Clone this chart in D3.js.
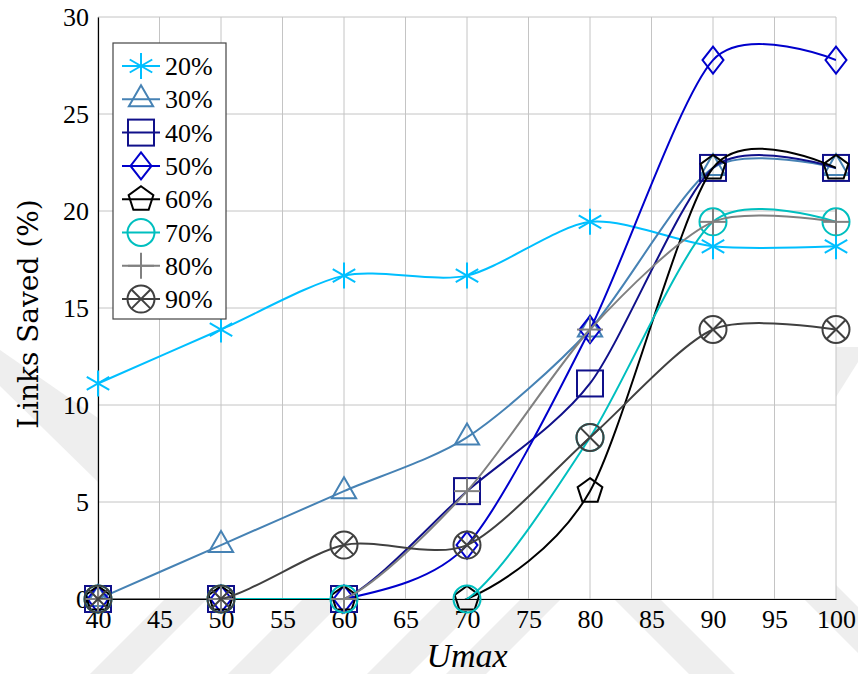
<!DOCTYPE html>
<html>
<head>
<meta charset="utf-8">
<script src="https://cdn.jsdelivr.net/npm/d3@7"></script>
<style>
  html, body { margin: 0; padding: 0; background: #fff; }
  svg { display: block; }
</style>
</head>
<body>
<svg id="chart" width="858" height="674"></svg>
<script>
// Umax values on the x axis
const umax = [40, 50, 60, 70, 80, 90, 100];
const xTicks = [40, 45, 50, 55, 60, 65, 70, 75, 80, 85, 90, 95, 100];
const yTicks = [0, 5, 10, 15, 20, 25, 30];

// Percentage of links saved for each load level
const s20 = [11.11, 13.89, 16.67, 16.67, 19.44, 18.18, 18.18];
const s30 = [0, 2.78, 5.56, 8.33, 13.89, 22.22, 22.22];
const s40 = [0, 0, 0, 5.56, 11.11, 22.22, 22.22];
const s50 = [0, 0, 0, 2.78, 13.89, 27.78, 27.78];
const s60 = [0, 0, 0, 0, 5.56, 22.22, 22.22];
const s70 = [0, 0, 0, 0, 8.33, 19.44, 19.44];
const s80 = [0, 0, 0, 5.56, 13.89, 19.44, 19.44];
const s90 = [0, 0, 2.78, 2.78, 8.33, 13.89, 13.89];

const seriesNames = ["20%", "30%", "40%", "50%", "60%", "70%", "80%", "90%"];
const seriesValues = [s20, s30, s40, s50, s60, s70, s80, s90];
const seriesColors = ["#00BFFF", "#4682B4", "#10108A", "#0000CC", "#000000", "#00BFBF", "#808080", "#404040"];
const seriesMarks = ["asterisk", "triangle", "square", "diamond", "pentagon", "circle", "plus", "otimes"];

const SERIF = "'Liberation Serif', 'Times New Roman', Tinos, 'DejaVu Serif', 'Noto Serif', serif";

const svg = d3.select("#chart");
const W = 858, H = 674;
const plot = { left: 98, right: 836, top: 17, bottom: 599 };

const x = d3.scaleLinear().domain([40, 100]).range([plot.left, plot.right]);
const y = d3.scaleLinear().domain([0, 30]).range([plot.bottom, plot.top]);

// faint watermark bands around the figure
const bands = [
  [[90, 674], [132, 674], [232, 574], [190, 574]],
  [[228, 674], [270, 674], [370, 574], [328, 574]],
  [[367, 674], [410, 674], [510, 574], [467, 574]],
  [[446, 674], [486, 674], [586, 574], [546, 574]],
  [[689, 674], [735, 674], [635, 574], [589, 574]],
  [[879, 674], [925, 674], [825, 574], [779, 574]],
  [[0, 350], [98, 418], [98, 482], [0, 386]],
  [[836, 347], [858, 347], [858, 362], [836, 397]]
];
svg.append("g").selectAll("polygon").data(bands).join("polygon")
  .attr("points", d => d.map(p => p.join(",")).join(" "))
  .attr("fill", "#eeeeee");

// plot background
svg.append("rect")
  .attr("x", plot.left).attr("y", plot.top)
  .attr("width", plot.right - plot.left).attr("height", plot.bottom - plot.top)
  .attr("fill", "#fff");

svg.append("defs").append("clipPath").attr("id", "plotClip")
  .append("rect")
  .attr("x", plot.left).attr("y", plot.top)
  .attr("width", plot.right - plot.left).attr("height", plot.bottom - plot.top);

// grid
const grid = svg.append("g").attr("stroke", "#c4c4c4").attr("stroke-width", 1);
grid.selectAll("line.vx").data(xTicks).join("line")
  .attr("x1", d => x(d)).attr("x2", d => x(d))
  .attr("y1", plot.top).attr("y2", plot.bottom);
grid.selectAll("line.hy").data(yTicks).join("line")
  .attr("x1", plot.left).attr("x2", plot.right)
  .attr("y1", d => y(d)).attr("y2", d => y(d));

// axes
const xAxis = d3.axisBottom(x).tickValues(xTicks).tickSize(0).tickPadding(10).tickFormat(d3.format("d"));
const yAxis = d3.axisLeft(y).tickValues(yTicks).tickSize(0).tickPadding(9).tickFormat(d3.format("d"));

const gx = svg.append("g").attr("transform", `translate(0,${plot.bottom})`).call(xAxis)
  .attr("font-family", SERIF).attr("font-size", 26);
gx.select(".domain").attr("stroke", "#000").attr("stroke-width", 1.2);
gx.selectAll("text").attr("fill", "#000").attr("dy", "0.72em");

const gy = svg.append("g").attr("transform", `translate(${plot.left},0)`).call(yAxis)
  .attr("font-family", SERIF).attr("font-size", 26);
gy.select(".domain").attr("stroke", "#000").attr("stroke-width", 1.2);
gy.selectAll("text").attr("fill", "#000");

// axis titles
svg.append("text")
  .attr("transform", `translate(38,${(plot.top + plot.bottom) / 2 + 6}) rotate(-90)`)
  .attr("text-anchor", "middle")
  .attr("font-family", "DejaVu Serif")
  .attr("font-size", 28)
  .text("Links Saved (%)");
svg.append("text")
  .attr("x", (plot.left + plot.right) / 2).attr("y", 667)
  .attr("text-anchor", "middle")
  .attr("font-family", SERIF)
  .attr("font-size", 34).attr("font-style", "italic")
  .text("Umax");

// marker shapes
function drawMark(g, type, color) {
  const base = { fill: "none", stroke: color, "stroke-width": 2 };
  const add = (tag, attrs) => {
    const el = g.append(tag);
    Object.entries(Object.assign({}, base, attrs)).forEach(([k, v]) => el.attr(k, v));
    return el;
  };
  const r = 13;
  switch (type) {
    case "asterisk":
      [90, 30, 150].forEach(a => {
        const t = a * Math.PI / 180;
        add("line", { x1: -r * Math.cos(t), y1: -r * Math.sin(t), x2: r * Math.cos(t), y2: r * Math.sin(t) });
      });
      break;
    case "triangle": {
      const R = 14;
      const pts = [[0, -R], [R * Math.sqrt(3) / 2, R / 2], [-R * Math.sqrt(3) / 2, R / 2]];
      add("polygon", { points: pts.map(p => p.join(",")).join(" ") });
      break;
    }
    case "square":
      add("rect", { x: -13, y: -13, width: 26, height: 26 });
      break;
    case "diamond":
      add("polygon", { points: "0,-13.5 10.5,0 0,13.5 -10.5,0" });
      break;
    case "pentagon": {
      const pts = d3.range(5).map(i => {
        const a = -Math.PI / 2 + i * 2 * Math.PI / 5;
        return [r * Math.cos(a), r * Math.sin(a)];
      });
      add("polygon", { points: pts.map(p => p.join(",")).join(" ") });
      break;
    }
    case "circle":
      add("circle", { cx: 0, cy: 0, r: 13.5 });
      break;
    case "plus":
      add("line", { x1: -r, y1: 0, x2: r, y2: 0 });
      add("line", { x1: 0, y1: -r, x2: 0, y2: r });
      break;
    case "otimes": {
      const R = 13.5, d = R * Math.SQRT1_2;
      add("circle", { cx: 0, cy: 0, r: R });
      add("line", { x1: -d, y1: -d, x2: d, y2: d });
      add("line", { x1: -d, y1: d, x2: d, y2: -d });
      break;
    }
  }
}

// series: smooth line (clipped to the axis box) then its markers
const line = d3.line()
  .x((d, i) => x(umax[i]))
  .y(d => y(d))
  .curve(d3.curveCardinal.tension(0.2));

const series = svg.append("g");
seriesValues.forEach((vals, si) => {
  const g = series.append("g");
  g.append("path")
    .attr("d", line(vals))
    .attr("clip-path", "url(#plotClip)")
    .attr("fill", "none")
    .attr("stroke", seriesColors[si])
    .attr("stroke-width", 2);
  vals.forEach((v, i) => {
    const m = g.append("g").attr("transform", `translate(${x(umax[i])},${y(v)})`);
    drawMark(m, seriesMarks[si], seriesColors[si]);
  });
});

// legend
const legend = svg.append("g").attr("font-family", SERIF).attr("font-size", 26);
legend.append("rect")
  .attr("x", 113).attr("y", 43).attr("width", 113).attr("height", 276)
  .attr("fill", "#fff").attr("stroke", "#444").attr("stroke-width", 1.2);
seriesNames.forEach((name, i) => {
  const cy = 66 + i * 33.3;
  const row = legend.append("g");
  row.append("line")
    .attr("x1", 122).attr("x2", 160).attr("y1", cy).attr("y2", cy)
    .attr("stroke", seriesColors[i]).attr("stroke-width", 2);
  const m = row.append("g").attr("transform", `translate(141,${cy})`);
  drawMark(m, seriesMarks[i], seriesColors[i]);
  row.append("text")
    .attr("x", 165).attr("y", cy + 9)
    .text(name);
});
</script>
</body>
</html>
